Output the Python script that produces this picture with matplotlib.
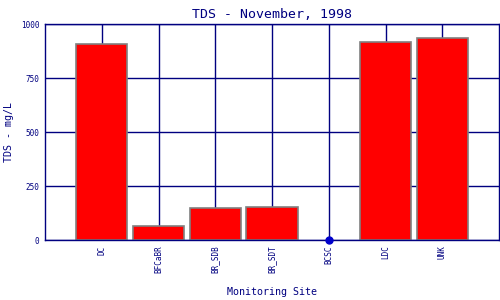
import numpy as np
import matplotlib
matplotlib.use('Agg')
import matplotlib.pyplot as plt

sites = ['DC', 'BFCaBR', 'BR_SDB', 'BR_SDT', 'BCSC', 'LDC', 'UNK']
tds = [907, 63, 147, 151, 0, 915, 934]
yticks = [0, 250, 500, 750, 1000]

navy = '#000080'
plt.rcParams['font.family'] = ['DejaVu Sans Mono']

fig = plt.figure(figsize=(5, 3), dpi=100)
ax = fig.add_axes([0.09, 0.2, 0.908, 0.72])

x = np.arange(len(sites))
ax.set_axisbelow(True)
ax.grid(True, color=navy, linewidth=1)

for xi, v in zip(x, tds):
    if v > 0:
        ax.bar(xi, v, width=0.9, color='red', edgecolor='#808080', linewidth=1.2, zorder=2)
    else:
        ax.plot(xi, v, 'o', color='#0000cc', markersize=5, clip_on=False, zorder=3)

ax.set_xlim(-1, len(sites))
ax.set_ylim(0, 1000)
ax.set_xticks(x)
ax.set_xticklabels(sites, rotation=90, fontsize=5.5, color=navy)
ax.set_yticks(yticks)
ax.set_yticklabels([str(t) for t in yticks], fontsize=5.5, color=navy)
ax.tick_params(length=0, pad=4)
for s in ax.spines.values():
    s.set_color(navy)
    s.set_linewidth(1)

ax.set_title('TDS - November, 1998', fontsize=9.5, color=navy, pad=4)
ax.set_ylabel('TDS - mg/L', fontsize=7.2, color=navy, labelpad=5)
ax.set_xlabel('Monitoring Site', fontsize=7.2, color=navy, labelpad=10)

fig.savefig('out.png', dpi=100)
